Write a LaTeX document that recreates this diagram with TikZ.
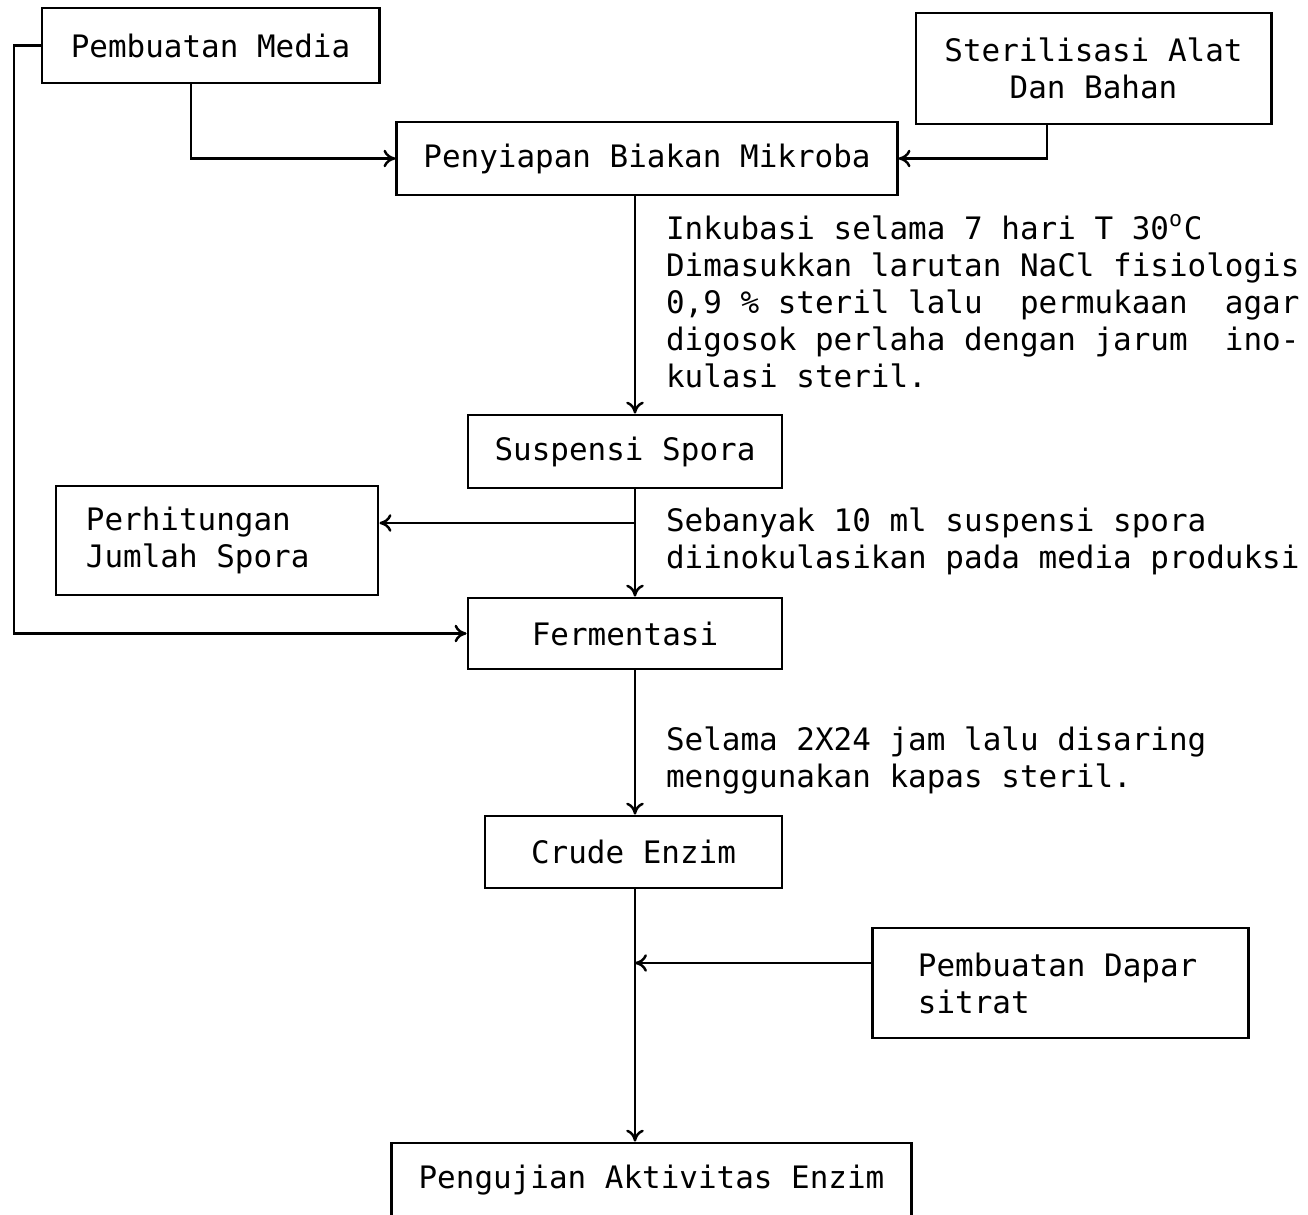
\documentclass[tikz,border=0pt]{standalone}
\usepackage{fontspec}
\setmonofont{DejaVu Sans Mono}[WordSpace={1,0,0}]
\usepackage{tikz}
\usetikzlibrary{arrows,arrows.meta,calc,positioning,math}
\tikzset{
arc/.style={->,>={To[length=3.4pt,width=5pt]},line width=0.7pt},
box/.style={draw,line width=0.8pt,font=\ttfamily\fontsize{8.8}{10.5}\selectfont,align=center,inner sep=0pt},
leftbox/.style={box,align=left,execute at begin node={\spaceskip=0pt\xspaceskip=0pt}},
note/.style={font=\ttfamily\fontsize{8.8}{10.5}\selectfont,align=left,inner sep=0pt,anchor=north west}
}

\begin{document}
\begin{tikzpicture}[semithick]
	\tikzmath{\s = 0.01;} % pixel scale
	\useasboundingbox (0,0) rectangle (1308*\s,-1215*\s);

	% boxes
	\node[box,minimum width=3.37cm,minimum height=0.75cm] (media) at (210.5*\s,-45.5*\s) {Pembuatan Media};
	\node[box,minimum width=3.55cm,minimum height=1.11cm] (steril) at (1093.5*\s,-68.5*\s) {Sterilisasi Alat\\Dan Bahan};
	\node[box,minimum width=5.00cm,minimum height=0.73cm] (biakan) at (647*\s,-158.5*\s) {Penyiapan Biakan Mikroba};
	\node[box,minimum width=3.14cm,minimum height=0.73cm] (spora) at (625*\s,-451.5*\s) {Suspensi Spora};
	\node[leftbox,text width=2.62cm,inner xsep=0.3cm,minimum height=1.09cm] (hitung) at (217*\s,-540.5*\s) {Perhitungan\\Jumlah Spora};
	\node[box,minimum width=3.14cm,minimum height=0.71cm] (ferm) at (625*\s,-633.5*\s) {Fermentasi};
	\node[box,minimum width=2.97cm,minimum height=0.72cm] (crude) at (633.5*\s,-852*\s) {Crude Enzim};
	\node[leftbox,text width=2.85cm,inner xsep=0.45cm,minimum height=1.10cm] (dapar) at (1060.5*\s,-983*\s) {Pembuatan Dapar\\sitrat};
	\node[box,minimum width=5.19cm,minimum height=0.75cm] (uji) at (651.5*\s,-1180.5*\s) {Pengujian Aktivitas Enzim};

	% notes
	\node[note] (note1) at (665*\s,-213*\s) {Inkubasi selama 7 hari T 30\textsuperscript{o}C\\
		Dimasukkan larutan NaCl fisiologis\\
		0,9 \% steril lalu\ \ permukaan\ \ agar\\
		digosok perlaha dengan jarum\ \ ino-\\
		kulasi steril.};
	\node[note] (note2) at (665*\s,-507*\s) {Sebanyak 10 ml suspensi spora\\
		diinokulasikan pada media produksi};
	\node[note] (note3) at (665*\s,-726*\s) {Selama 2X24 jam lalu disaring\\
		menggunakan kapas steril.};

	% arrows
	\coordinate (trunk) at (635*\s,0);
	\coordinate (split) at (635*\s,-523*\s);
	\coordinate (join) at (635*\s,-963*\s);
	\coordinate (mdrop) at (191*\s,0);
	\coordinate (sdrop) at (1047*\s,0);
	\coordinate (loop) at (14*\s,0);

	\draw[arc] (media.south -| mdrop) |- (biakan.west);
	\draw[arc] (steril.south -| sdrop) |- (biakan.east);
	\draw[arc] (biakan.south -| trunk) -- (spora.north -| trunk);
	\draw[arc] (spora.south -| trunk) -- (ferm.north -| trunk);
	\draw[arc] (split) -- (split -| hitung.east);
	\draw[arc] (media.west) -- (media.west -| loop) |- (ferm.west);
	\draw[arc] (ferm.south -| trunk) -- (crude.north -| trunk);
	\draw[arc] (join -| dapar.west) -- (join);
	\draw[arc] (crude.south -| trunk) -- (uji.north -| trunk);
\end{tikzpicture}
\end{document}
